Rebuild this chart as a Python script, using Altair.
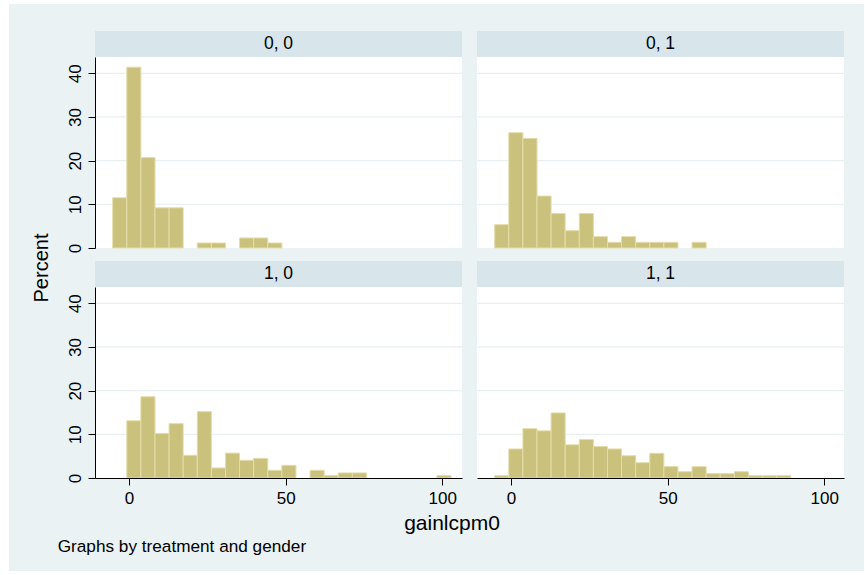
import altair as alt
import pandas as pd

# ---- data ----
bin_left = [-5.2, -0.7, 3.8, 8.3, 12.8, 17.3, 21.8, 26.3, 30.8, 35.3, 39.8, 44.3,
            48.8, 53.3, 57.8, 62.3, 66.8, 71.3, 75.8, 80.3, 84.8, 89.3, 93.8, 98.3]
bin_width = 4.5

pct_00 = [11.5, 41.4, 20.7, 9.2, 9.2, 0, 1.15, 1.15, 0, 2.3, 2.3, 1.15,
          0, 0, 0, 0, 0, 0, 0, 0, 0, 0, 0, 0]
pct_01 = [5.35, 26.4, 25.1, 11.9, 7.9, 3.97, 7.9, 2.6, 1.3, 2.6, 1.3, 1.3,
          1.3, 0, 1.3, 0, 0, 0, 0, 0, 0, 0, 0, 0]
pct_10 = [0, 13.1, 18.6, 10.2, 12.45, 5.2, 15.2, 2.3, 5.7, 4.05, 4.5, 1.76,
          2.9, 0, 1.76, 0.58, 1.16, 1.16, 0, 0, 0, 0, 0, 0.58]
pct_11 = [0.53, 6.65, 11.3, 10.8, 14.9, 7.6, 8.8, 7.2, 6.65, 5.1, 3.5, 5.65,
          2.6, 1.45, 2.6, 1.0, 1.0, 1.45, 0.53, 0.53, 0.53, 0, 0, 0]

panel_labels = ["0, 0", "0, 1", "1, 0", "1, 1"]
y_ticks = [0, 10, 20, 30, 40]
grid_vals = [10, 20, 30, 40]
x_ticks = [0, 50, 100]

# ---- styling / layout ----
W, H = 367, 191
HDR = 26
YMAX = 43.73
XDOM = [-10.85, 106.3]
FONT = "Liberation Sans"
BG = "#EAF2F3"
HDR_COL = "#D8E5EA"
BAR = "#C9C17C"
BAR_EDGE = "#E4DDAA"
GRID = "#E8F0F2"

xscale = alt.Scale(domain=XDOM, nice=False, zero=False)
yscale = alt.Scale(domain=[0, YMAX], nice=False, zero=True)

one = pd.DataFrame({"a": [0]})


def y_axis():
    return alt.Axis(values=y_ticks, labelAngle=270, labelAlign="center",
                    labelBaseline="alphabetic", labelPadding=8, tickSize=7,
                    labelFont=FONT, labelFontSize=17, labelColor="#000",
                    domainColor="#000", tickColor="#000", domainWidth=1,
                    tickWidth=1, grid=False, zindex=1, title=None)


def x_axis():
    return alt.Axis(values=x_ticks, labelPadding=5, tickSize=7,
                    labelFont=FONT, labelFontSize=17, labelColor="#000",
                    domainColor="#000", tickColor="#000", domainWidth=1,
                    tickWidth=1, grid=False, zindex=1, title=None, labelFlush=False)


def panel(label, pct, left, bottom, first=False):
    df = pd.DataFrame({"x0": bin_left, "pct": pct})
    df = df[df.pct > 0].copy()
    df["x1"] = df.x0 + bin_width
    ya = y_axis() if left else None
    xa = x_axis() if bottom else None
    layers = []
    if first:
        layers.append(alt.Chart(one).mark_rect(color=BG, clip=False).encode(
            x=alt.value(9 - 95), x2=alt.value(864 - 95),
            y=alt.value(4 - 57), y2=alt.value(571 - 57)))
        layers.append(alt.Chart(one).mark_rect(color="white", clip=False).encode(
            x=alt.value(0), x2=alt.value(W), y=alt.value(0), y2=alt.value(H)))
        layers.append(alt.Chart(one).mark_text(
            text="Percent", angle=270, font=FONT, fontSize=20, color="#000",
            align="center", baseline="middle", clip=False).encode(
            x=alt.value(42 - 95), y=alt.value(268 - 57)))
    gdf = pd.DataFrame({"g": grid_vals})
    layers.append(alt.Chart(gdf).mark_rule(color=GRID, strokeWidth=1.3).encode(
        y=alt.Y("g:Q", scale=yscale, axis=ya),
        x=alt.value(0), x2=alt.value(W)))
    layers.append(alt.Chart(df).mark_rect(
        color=BAR, stroke=BAR_EDGE, strokeWidth=1).encode(
        x=alt.X("x0:Q", scale=xscale, axis=xa),
        x2="x1:Q",
        y=alt.Y("pct:Q", scale=yscale, axis=ya),
        y2=alt.datum(0)))
    layers.append(alt.Chart(one).mark_rect(color=HDR_COL, clip=False).encode(
        x=alt.value(0), x2=alt.value(W), y=alt.value(-HDR), y2=alt.value(0)))
    layers.append(alt.Chart(one).mark_text(
        text=label, font=FONT, fontSize=17.5, color="#000",
        align="center", baseline="middle", clip=False).encode(
        x=alt.value(W / 2), y=alt.value(-HDR / 2)))
    if left and bottom:
        layers.append(alt.Chart(one).mark_text(
            text="gainlcpm0", font=FONT, fontSize=21, color="#000",
            align="center", baseline="alphabetic", clip=False).encode(
            x=alt.value(452 - 95), y=alt.value(530 - 287)))
        layers.append(alt.Chart(one).mark_text(
            text="Graphs by treatment and gender", font=FONT, fontSize=17.2,
            color="#000", align="left", baseline="alphabetic", clip=False).encode(
            x=alt.value(57.7 - 95), y=alt.value(552 - 287)))
    return alt.layer(*layers).properties(width=W, height=H)


tl = panel(panel_labels[0], pct_00, True, False, first=True)
tr = panel(panel_labels[1], pct_01, False, False)
bl = panel(panel_labels[2], pct_10, True, True)
br = panel(panel_labels[3], pct_11, False, True)

chart = alt.concat(tl, tr, bl, br, columns=2,
                   spacing={"row": 39, "column": 15}, bounds="flush").properties(
    padding={"left": 9, "top": 4, "right": 1, "bottom": 4},
    background="white",
).configure_view(stroke=None, fill="white")

chart.save("out.html", embed_options={"renderer": "svg", "actions": False})
